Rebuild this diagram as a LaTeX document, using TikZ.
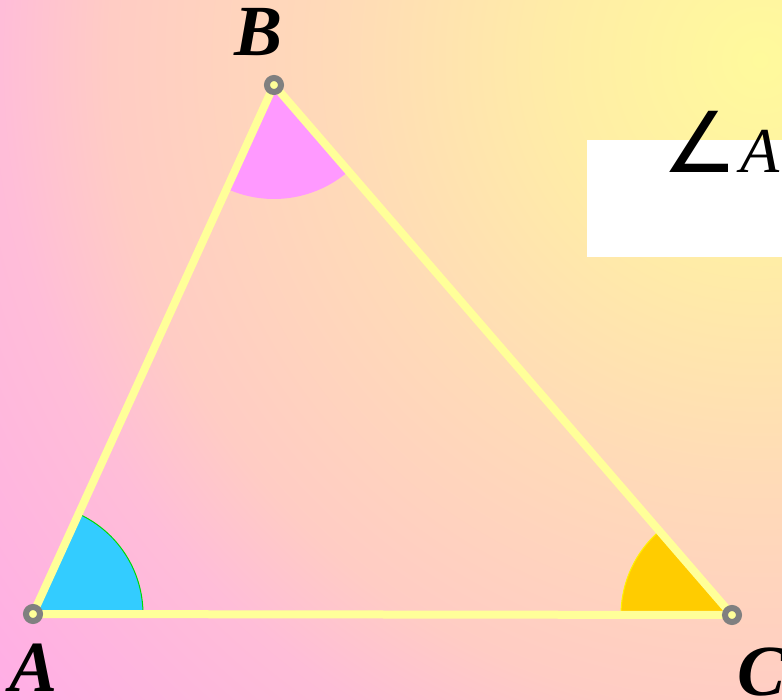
\documentclass[tikz,border=0pt]{standalone}
\usepackage{fontspec}
\setmainfont{Liberation Serif}
\newfontfamily\symfont{DejaVu Sans}
\usetikzlibrary{positioning}

\definecolor{sidecol}{HTML}{FFFF99}
\definecolor{ringgray}{HTML}{808080}
\definecolor{wedgeA}{HTML}{33CCFF}
\definecolor{wedgeB}{HTML}{FF99FF}
\definecolor{wedgeC}{HTML}{FFCC00}
\definecolor{glow0}{HTML}{FFFA9C}
\definecolor{glow1}{HTML}{FFEDA6}
\definecolor{glow2}{HTML}{FFDAB8}
\definecolor{glow3}{HTML}{FFCCC4}
\definecolor{glow4}{HTML}{FFBDD8}
\definecolor{glow5}{HTML}{FFADE6}
\pgfdeclareradialshading{glow}{\pgfpoint{0bp}{0bp}}{color(0bp)=(glow0); color(5bp)=(glow1); color(10.75bp)=(glow2); color(16.25bp)=(glow3); color(19bp)=(glow4); color(25bp)=(glow5); color(50bp)=(glow5)}

\begin{document}
\begin{tikzpicture}[
  x=1pt, y=1pt,
  side/.style={draw=sidecol, line width=8pt},
  vtx/.style={circle, draw=ringgray, line width=6pt, fill=sidecol,
              minimum size=14pt, inner sep=0pt},
  lab/.style={font=\fontsize{72}{72}\selectfont\bfseries\itshape, inner sep=0pt, anchor=base},
  rim/.style={line width=1pt},
]
\clip (0,0) rectangle (782,699);
% background glow
\shade[shading=glow] (-240,-361) rectangle (1760,1639);

% vertices
\coordinate (A) at (33,85);
\coordinate (B) at (274,614);
\coordinate (C) at (732,84);

% angle wedges
\fill[wedgeA] (A) -- ++(0:110) arc[start angle=0, end angle=65.5, radius=110] -- cycle;
\draw[rim, green!85!black] (A) ++(0:110) arc[start angle=0, end angle=65.5, radius=110];
\fill[wedgeB] (B) -- ++(245.5:114) arc[start angle=245.5, end angle=310.8, radius=114] -- cycle;
\fill[wedgeC] (C) -- ++(130.8:111) arc[start angle=130.8, end angle=180, radius=111] -- cycle;
\draw[rim, yellow] (C) ++(130.8:111) arc[start angle=130.8, end angle=180, radius=111];

% triangle
\draw[side] (A) -- (B) -- (C) -- cycle;
\node[vtx] (a) at (A) {};
\node[vtx] (b) at (B) {};
\node[vtx] (c) at (C) {};

% vertex labels
\node[lab] (labA) at (34,7) {A};
\node[lab] (labB) at (259,643) {B};
\node[lab] (labC) at (762,3) {C};

% white panel
\fill[white] (587,442) rectangle (800,559);
\node[anchor=base west, inner sep=0pt, font=\fontsize{64}{64}\selectfont] (angtxt) at (662,526)
  {{\symfont\fontsize{84}{84}\selectfont ∠}\kern3pt\textit{A}};
\end{tikzpicture}
\end{document}
